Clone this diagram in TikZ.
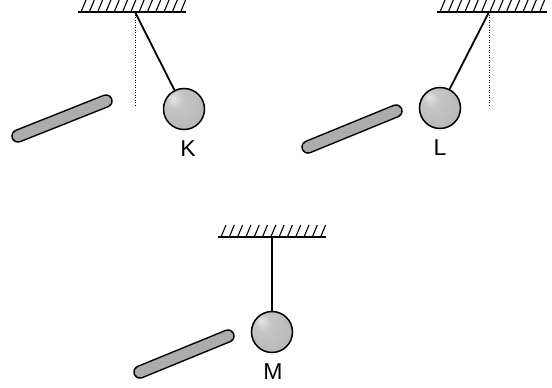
\documentclass[tikz,border=0pt]{standalone}
\usepackage{fontspec}
\setmainfont{Liberation Sans}
\usepackage{tikz}
\definecolor{rodgrey}{RGB}{172,172,172}
\pgfdeclareradialshading{ballshade}{\pgfpoint{-14bp}{14bp}}{%
  color(0bp)=(white!80!gray); color(10bp)=(gray!45);
  color(30bp)=(gray!55); color(50bp)=(gray!60)}

\tikzset{
  ceiling/.style={line width=2.2pt},
  hatch/.style={line width=1.1pt},
  thread/.style={line width=1.8pt},
  plumb/.style={line width=1pt, dash pattern=on 1.2pt off 1.3pt},
  ball/.style={circle, draw, line width=1.5pt, minimum size=41pt,
    inner sep=0pt, shading=ballshade},
  tag/.style={font=\fontsize{23}{27}\selectfont}
}
\newcommand{\ceil}[3]{% x0, x1, y
  \draw[ceiling] (#1,#3) -- (#2,#3);
  \foreach \h in {0,...,12}
    \draw[hatch] ({#1+3+8.3*\h},#3) -- ({#1+8+8.3*\h},{#3-12});
}
\newcommand{\rod}[2]{%
  \draw[line width=13.5pt, line cap=round] #1 -- #2;
  \draw[line width=10.5pt, line cap=round, rodgrey] #1 -- #2;
}

\begin{document}
\begin{tikzpicture}[x=1pt,y=-1pt]
  \useasboundingbox (0,0) rectangle (552,388);
  % pendulum K
  \ceil{78}{186}{12}
  \coordinate (pivotK) at (135,12);
  \coordinate (plumbK) at (135,105);
  \draw[plumb] (pivotK) -- (plumbK);
  \node[ball] (ballK) at (184,109) {};
  \draw[thread] (pivotK) -- (ballK);
  \node[tag] (tagK) at (188,149) {K};
  \rod{(18,136)}{(106,101)}
  % pendulum L
  \ceil{437}{547}{12}
  \coordinate (pivotL) at (489,12);
  \coordinate (plumbL) at (489,105);
  \draw[plumb] (pivotL) -- (plumbL);
  \node[ball] (ballL) at (440,108) {};
  \draw[thread] (pivotL) -- (ballL);
  \node[tag] (tagL) at (440,148) {L};
  \rod{(308,147)}{(396,111)}
  % pendulum M
  \ceil{218}{326}{237}
  \coordinate (pivotM) at (272,237);
  \node[ball] (ballM) at (272,332) {};
  \draw[thread] (pivotM) -- (ballM);
  \node[tag] (tagM) at (273,372) {M};
  \rod{(140,372)}{(228,336)}
\end{tikzpicture}
\end{document}
